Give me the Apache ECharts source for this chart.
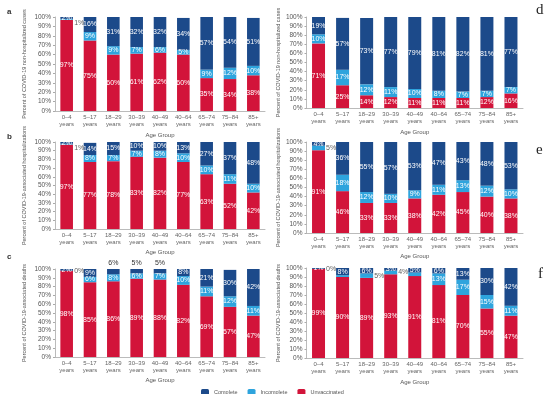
<!DOCTYPE html>
<html><head><meta charset="utf-8">
<script src="https://cdn.jsdelivr.net/npm/echarts@6/dist/echarts.min.js"></script>
<style>html,body{margin:0;padding:0;background:#fff}#c{width:550px;height:394px}</style>
</head><body><div id="c"></div>
<script>
// ---- data ----
const ageGroups = ['0–4','5–17','18–29','30–39','40–49','40–64','65–74','75–84','85+'];
const yTicks = [0,10,20,30,40,50,60,70,80,90,100];

// a: non-hospitalized cases
const aUnvaccinated = [97,75,60,61,62,60,35,34,38];
const aIncomplete   = [1,9,9,7,6,5,9,12,10];
const aComplete     = [2,16,31,32,32,34,57,54,51];
// b: hospitalizations
const bUnvaccinated = [97,77,78,83,82,77,63,52,42];
const bIncomplete   = [1,8,7,7,8,10,10,11,10];
const bComplete     = [2,14,15,10,10,13,27,37,48];
// c: deaths
const cUnvaccinated = [98,85,86,89,88,82,69,57,47];
const cIncomplete   = [0,6,8,6,7,10,11,12,11];
const cComplete     = [2,9,6,5,5,8,21,30,42];
// d: non-hospitalized cases
const dUnvaccinated = [71,25,14,12,11,11,11,12,16];
const dIncomplete   = [10,17,12,11,10,8,7,7,7];
const dComplete     = [19,57,73,77,79,81,82,81,77];
// e: hospitalizations
const eUnvaccinated = [91,46,33,33,38,42,45,40,38];
const eIncomplete   = [5,18,12,10,9,11,13,12,10];
const eComplete     = [4,36,55,57,53,47,43,48,53];
// f: deaths
const fUnvaccinated = [99,90,89,93,91,81,70,55,47];
const fIncomplete   = [0,2,5,4,4,13,17,15,11];
const fComplete     = [1,8,6,3,5,6,13,30,42];

const seriesNames = ['Unvaccinated','Incomplete','Complete'];
const colors = {Unvaccinated:'#d2143a', Incomplete:'#2ea4dd', Complete:'#1c4a8a'};

// ---- layout / label placement ----
const FONT = 'Liberation Sans, Arial, sans-serif';
const panels = [
  {id:'a', title:'Percent of COVID-19 non-hospitalized cases', data:[aUnvaccinated,aIncomplete,aComplete],
   grid:{left:55, top:17, width:210, height:94}, yGap:28, xGap:21,
   special:{'1-0':'rightLow'}},
  {id:'b', title:'Percent of COVID-19-associated hospitalizations', data:[bUnvaccinated,bIncomplete,bComplete],
   grid:{left:55, top:142, width:210, height:87}, yGap:28, xGap:20,
   special:{'1-0':'rightLow'}},
  {id:'c', title:'Percent of COVID-19-associated deaths', data:[cUnvaccinated,cIncomplete,cComplete],
   grid:{left:55, top:269, width:210, height:88}, yGap:28, xGap:20,
   special:{'1-0':'right','2-2':'top','2-3':'top','2-4':'top'}},
  {id:'d', title:'Percent of COVID-19 non-hospitalized cases', data:[dUnvaccinated,dIncomplete,dComplete],
   grid:{left:306.5, top:17, width:216.5, height:91}, yGap:25, xGap:21,
   special:{}},
  {id:'e', title:'Percent of COVID-19-associated hospitalizations', data:[eUnvaccinated,eIncomplete,eComplete],
   grid:{left:306.5, top:142, width:216.5, height:91}, yGap:25, xGap:20,
   special:{'1-0':'right'}},
  {id:'f', title:'Percent of COVID-19-associated deaths', data:[fUnvaccinated,fIncomplete,fComplete],
   grid:{left:306.5, top:268, width:216.5, height:90}, yGap:25, xGap:21,
   special:{'1-0':'right','1-1':'none','1-2':'right','1-3':'right','1-4':'none'}}
];

const grids=[], xAxes=[], yAxes=[], series=[];
panels.forEach((p,pi)=>{
  grids.push(p.grid);
  xAxes.push({type:'category', gridIndex:pi, data:ageGroups,
    name:'Age Group', nameLocation:'middle', nameGap:p.xGap,
    nameTextStyle:{fontSize:6, color:'#555', fontFamily:FONT},
    axisLine:{lineStyle:{color:'#aaa', width:0.8}}, axisTick:{show:false},
    axisLabel:{fontSize:6, color:'#666', fontFamily:FONT, lineHeight:7, margin:3, interval:0,
      formatter:v=>v+'\nyears'}});
  yAxes.push({type:'value', gridIndex:pi, min:0, max:100, interval:10,
    name:p.title, nameLocation:'middle', nameGap:p.yGap, nameRotate:90,
    nameTextStyle:{fontSize:5.5, color:'#555', fontFamily:FONT},
    axisLine:{show:true, lineStyle:{color:'#aaa', width:0.8}},
    axisTick:{show:true, length:2, lineStyle:{color:'#aaa'}},
    splitLine:{show:false},
    axisLabel:{fontSize:6.5, color:'#555', fontFamily:FONT, margin:4, formatter:'{value}%'}});
  const outside = [];
  p.data.forEach((vals,si)=>{
    series.push({type:'bar', name:seriesNames[si], xAxisIndex:pi, yAxisIndex:pi, stack:'s'+pi,
      barWidth:'54%', itemStyle:{color:colors[seriesNames[si]]},
      label:{show:true, position:'inside', color:'#fff', fontSize:7, fontFamily:FONT, formatter:'{c}%'},
      data:vals.map((v,i)=>{
        const sp = p.special[si+'-'+i];
        if(sp==='none') return {value:v, label:{show:false}};
        if(sp==='right' || sp==='rightLow'){
          let base = 0; for(let k=0;k<si;k++) base += p.data[k][i];
          outside.push({value:[i, base + v/2], pct:v, low: sp==='rightLow'});
          return {value:v, label:{show:false}};
        }
        if(sp==='top') return {value:v, label:{show:true, position:'top', distance:2, color:'#333'}};
        return v;
      })});
  });
  if(outside.length){
    series.push({type:'scatter', name:'outside-'+p.id, xAxisIndex:pi, yAxisIndex:pi, silent:true,
      symbolSize:1, itemStyle:{color:'rgba(0,0,0,0)'}, z:5,
      data:outside.map(o=>({value:o.value,
        label:{show:true, position:'right', distance:7, offset:[0, o.low?4:0], color:'#333',
          fontSize:7, fontFamily:FONT, formatter:o.pct+'%'}}))});
  }
});

const chart = echarts.init(document.getElementById('c'), null, {renderer:'canvas'});
chart.setOption({
  animation:false,
  backgroundColor:'#fff',
  grid:grids, xAxis:xAxes, yAxis:yAxes, series:series,
  legend:{data:['Complete','Incomplete','Unvaccinated'], left:196, top:384, itemWidth:8, itemHeight:6,
    itemGap:10, textStyle:{fontSize:5.5, color:'#555', fontFamily:FONT}},
  graphic:[
    {type:'text', left:7, top:8, style:{text:'a', font:'bold 8px Liberation Sans', fill:'#333'}},
    {type:'text', left:7, top:133, style:{text:'b', font:'bold 8px Liberation Sans', fill:'#333'}},
    {type:'text', left:7, top:253, style:{text:'c', font:'bold 8px Liberation Sans', fill:'#333'}},
    {type:'text', left:536, top:3, style:{text:'d', font:'15px Liberation Serif', fill:'#222'}},
    {type:'text', left:536, top:143, style:{text:'e', font:'15px Liberation Serif', fill:'#222'}},
    {type:'text', left:538, top:267, style:{text:'f', font:'15px Liberation Serif', fill:'#222'}}
  ]
});
</script></body></html>
